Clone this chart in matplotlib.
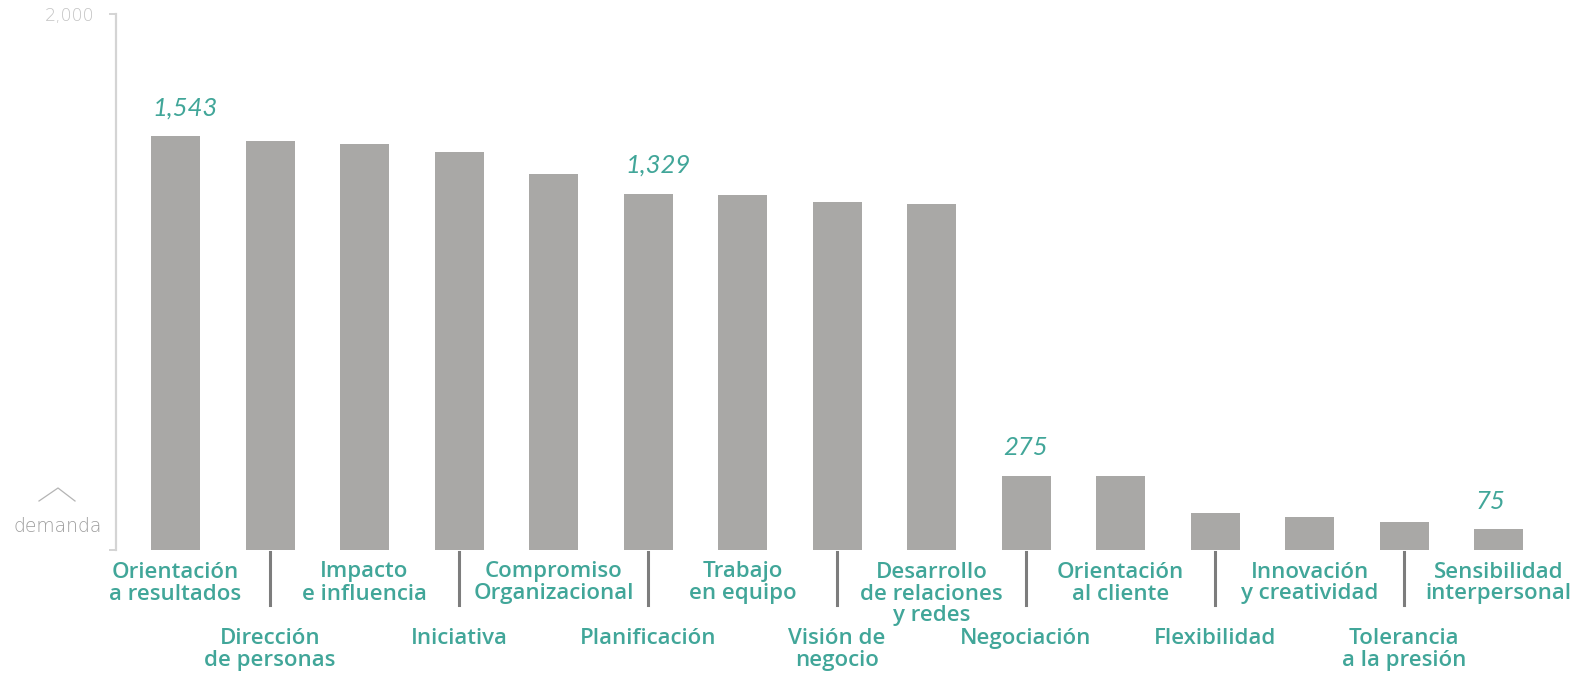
import matplotlib
matplotlib.use("Agg")
import matplotlib.pyplot as plt
from matplotlib import transforms
from matplotlib.lines import Line2D

# competencias y demanda
labels = [
    "Orientación\na resultados", "Dirección\nde personas", "Impacto\ne influencia",
    "Iniciativa", "Compromiso\nOrganizacional", "Planificación", "Trabajo\nen equipo",
    "Visión de\nnegocio", "Desarrollo\nde relaciones\ny redes", "Negociación",
    "Orientación\nal cliente", "Flexibilidad", "Innovación\ny creatividad",
    "Tolerancia\na la presión", "Sensibilidad\ninterpersonal",
]
demanda = [1543, 1524, 1513, 1483, 1404, 1329, 1324, 1297, 1289, 275, 274, 137, 122, 104, 75]
destacados = [0, 5, 9, 14]  # barras con el valor escrito encima

TEAL = "#41a699"
GRIS_BARRA = "#a9a8a6"
W, H = 1577, 673

fig = plt.figure(figsize=(W / 100, H / 100), dpi=100)
# ejes en pixeles: izquierda 115.7, arriba 14, abajo 549.5
ax = fig.add_axes([115.7 / W, (H - 549.5) / H, 1 - 115.7 / W, (549.5 - 14) / H])

x = list(range(len(demanda)))
ax.bar(x, demanda, width=0.5185, color=GRIS_BARRA, zorder=2)
ax.set_xlim(-0.633, 14.83)
ax.set_ylim(0, 2000)

for s in ["top", "right", "bottom"]:
    ax.spines[s].set_visible(False)
ax.spines["left"].set_color("#d4d4d4")
ax.spines["left"].set_linewidth(1.6)
ax.set_xticks([])
ax.set_yticks([0, 2000])
ax.set_yticklabels(["", "2,000"], fontfamily="DejaVu Sans", fontweight="light",
                   fontsize=12.5, color="#c2c2c2")
ax.tick_params(axis="y", length=5, width=1.4, color="#d4d4d4", pad=10)

# valores sobre algunas barras
for i in destacados:
    ax.annotate(f"{demanda[i]:,}", (i - 0.2593, demanda[i]), xytext=(1, 15),
                textcoords="offset points", ha="left", va="baseline",
                fontfamily="Lato", fontstyle="italic", fontweight="normal",
                fontsize=18.5, color=TEAL)

# etiquetas en dos filas alternadas
trans = transforms.blended_transform_factory(ax.transData, fig.transFigure)
def fy(py):
    return (H - py) / H

for i, lab in enumerate(labels):
    lines = lab.split("\n")
    if i % 2 == 0:
        base = 577.5
    else:
        base = 644
        ax.add_line(Line2D([i, i], [fy(552), fy(605)], transform=trans,
                           color="#7d7d7d", linewidth=2.2, clip_on=False))
    for k, ln in enumerate(lines):
        ax.text(i, fy(base + 22 * k), ln, transform=trans, ha="center",
                va="baseline", fontfamily="Open Sans", fontweight="semibold",
                fontsize=16, color=TEAL, clip_on=False)

# rotulo del eje
fig.text(57.5 / W, fy(532), "demanda", ha="center", va="baseline",
         fontfamily="DejaVu Sans", fontweight="light", fontsize=13.5, color="#9c9c9c")
fig.add_artist(Line2D([39 / W, 58 / W, 75 / W], [fy(501), fy(488), fy(501)],
                      transform=fig.transFigure, color="#b4b4b4", linewidth=0.9))

fig.savefig("out.png", dpi=100, facecolor="white")
